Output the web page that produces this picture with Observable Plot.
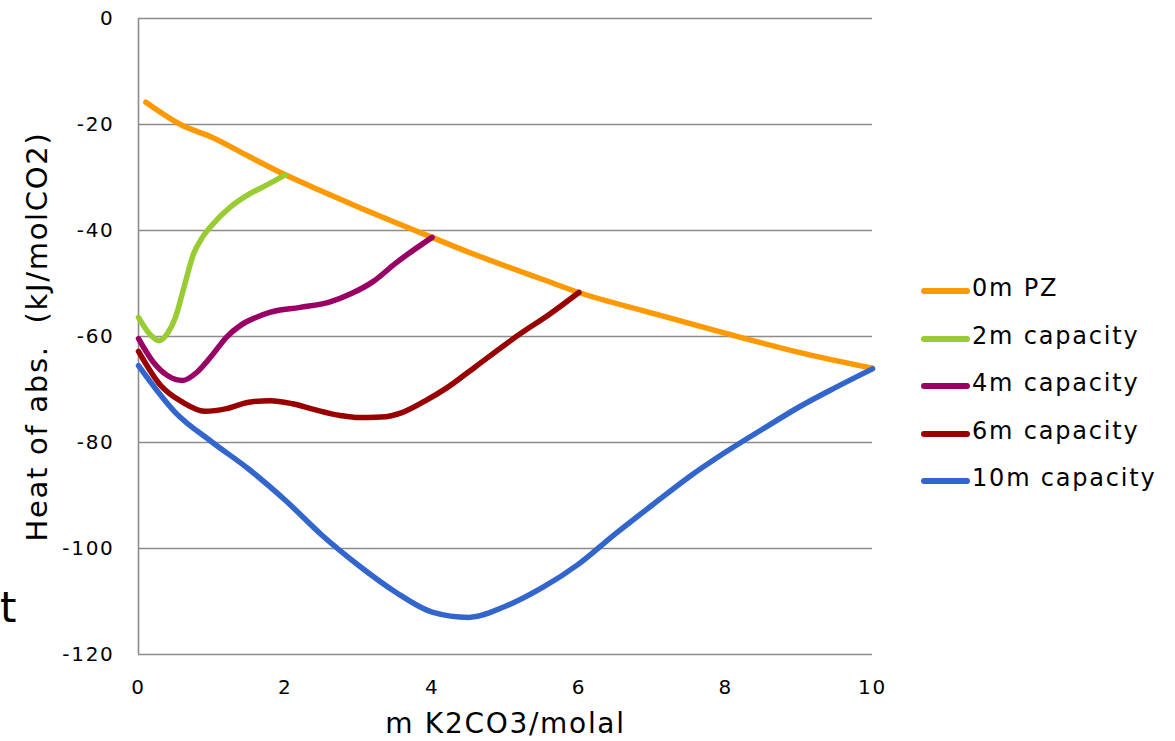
<!DOCTYPE html>
<html>
<head>
<meta charset="utf-8">
<script src="https://cdn.jsdelivr.net/npm/d3@7"></script>
<script src="https://cdn.jsdelivr.net/npm/@observablehq/plot@0.6"></script>
<style>
  html, body { margin: 0; padding: 0; background: #fff; overflow: hidden; }
  #wrap { position: relative; width: 1175px; height: 741px; font-family: "DejaVu Sans", Verdana, sans-serif; }
  #legend { position: absolute; left: 921px; top: 272px; }
  .lg { position: absolute; left: 0; height: 40px; white-space: nowrap; font-size: 24px; letter-spacing: 1.8px; color: #000; }
  .lg .sw { position: absolute; left: 0; top: 16px; width: 49px; height: 6px; border-radius: 3px; }
  .lg .tx { position: absolute; left: 51px; top: 2px; }
  #stray { position: absolute; left: 0px; top: 583px; font-size: 42px; font-family: "DejaVu Sans", sans-serif; }
  g[aria-label="ylabel"] text { letter-spacing: 2.3px; }
  g[aria-label="xlabel"] text { letter-spacing: 1px; }
</style>
</head>
<body>
<div id="wrap">
  <div id="chart"></div>
  <div id="legend"></div>
  <div id="stray">t</div>
</div>
<script>
// ---- data ----
const seriesNames = ["0m PZ", "2m capacity", "4m capacity", "6m capacity", "10m capacity"];
const seriesColors = ["#ff9900", "#99cc33", "#990066", "#990000", "#3366cc"];

const pz0X = [0.1, 0.6, 1, 1.5, 2, 2.5, 3, 3.5, 4, 4.5, 5, 5.5, 6, 7, 8, 9, 10];
const pz0Y = [-15.8, -20.2, -22.4, -26.0, -29.5, -32.6, -35.6, -38.5, -41.3, -44.1, -46.7, -49.2, -51.7, -55.6, -59.4, -63.0, -66.0];

const cap2X = [0, 0.15, 0.28, 0.4, 0.5, 0.62, 0.75, 0.87, 1.0, 1.25, 1.5, 1.75, 2.0];
const cap2Y = [-56.4, -59.5, -60.8, -59.3, -56.5, -50.7, -44.4, -41.3, -39.0, -35.6, -33.2, -31.4, -29.5];

const cap4X = [0, 0.2, 0.4, 0.6, 0.8, 1.0, 1.2, 1.4, 1.6, 1.8, 2.2, 2.6, 2.9, 3.2, 3.5, 4.0];
const cap4Y = [-60.4, -64.8, -67.4, -68.3, -66.7, -63.6, -60.1, -57.8, -56.4, -55.4, -54.5, -53.5, -51.9, -49.6, -46.2, -41.3];

const cap6X = [0, 0.3, 0.6, 0.9, 1.2, 1.5, 1.8, 2.1, 2.4, 2.75, 3.0, 3.3, 3.6, 3.9, 4.2, 4.6, 5.2, 5.6, 6.0];
const cap6Y = [-62.8, -69.2, -72.4, -74.1, -73.6, -72.4, -72.1, -72.7, -73.8, -74.9, -75.3, -75.2, -74.3, -72.2, -69.7, -65.6, -59.5, -55.8, -51.7];

const cap10X = [0, 0.5, 1.0, 1.5, 2.0, 2.5, 3.0, 3.5, 4.0, 4.5, 5.0, 5.5, 6.0, 6.5, 7.0, 7.5, 8.0, 8.5, 9.0, 9.5, 10];
const cap10Y = [-65.5, -74.3, -79.9, -85.0, -90.9, -97.5, -103.2, -108.2, -112.0, -113.0, -110.9, -107.4, -102.9, -97.2, -91.8, -86.5, -81.8, -77.5, -73.3, -69.6, -66.1];

const xTicks = [0, 2, 4, 6, 8, 10];
const yTicks = [0, -20, -40, -60, -80, -100, -120];
const xLabel = "m K2CO3/molal";
const yLabel = "Heat of abs.  (kJ/molCO2)";

// ---- build table ----
const xs = [pz0X, cap2X, cap4X, cap6X, cap10X];
const ys = [pz0Y, cap2Y, cap4Y, cap6Y, cap10Y];
const rows = [];
seriesNames.forEach((s, i) => xs[i].forEach((x, j) => rows.push({series: s, x, y: ys[i][j]})));

const chart = Plot.plot({
  width: 1175,
  height: 741,
  marginLeft: 138,
  marginRight: 303,
  marginTop: 18,
  marginBottom: 87,
  style: {fontFamily: "DejaVu Sans, Verdana, sans-serif", fontSize: "20px", color: "#000", letterSpacing: "1.7px", background: "#fff"},
  x: {domain: [0, 10], ticks: xTicks},
  y: {domain: [-120, 0], ticks: yTicks},
  color: {domain: seriesNames, range: seriesColors},
  marks: [
    Plot.ruleY(yTicks, {stroke: "#8c8c8c", strokeWidth: 1.6}),
    Plot.ruleX([0], {stroke: "#8c8c8c", strokeWidth: 1.6}),
    Plot.axisX({ticks: xTicks, tickSize: 0, tickPadding: 25, label: null, fontSize: 20, tickFormat: d => String(d)}),
    Plot.axisY({ticks: yTicks, tickSize: 0, tickPadding: 24, label: null, fontSize: 20, tickFormat: d => String(d)}),
    Plot.line(rows, {x: "x", y: "y", z: "series", stroke: "series", strokeWidth: 5.5, curve: "monotone-x", strokeLinecap: "round", strokeLinejoin: "round"}),
    Plot.text([xLabel], {frameAnchor: "bottom", textAnchor: "middle", dy: 78, fontSize: 28, fill: "#000", ariaLabel: "xlabel"}),
    Plot.text([yLabel], {frameAnchor: "left", textAnchor: "middle", dx: -101, rotate: -90, fontSize: 29, fill: "#000", ariaLabel: "ylabel"})
  ]
});
document.getElementById("chart").appendChild(chart);

const lg = document.getElementById("legend");
seriesNames.forEach((s, i) => {
  const d = document.createElement("div");
  d.className = "lg";
  d.style.top = (i * 47.5) + "px";
  d.innerHTML = `<div class="sw" style="background:${seriesColors[i]}"></div><div class="tx">${s}</div>`;
  lg.appendChild(d);
});
</script>
</body>
</html>
